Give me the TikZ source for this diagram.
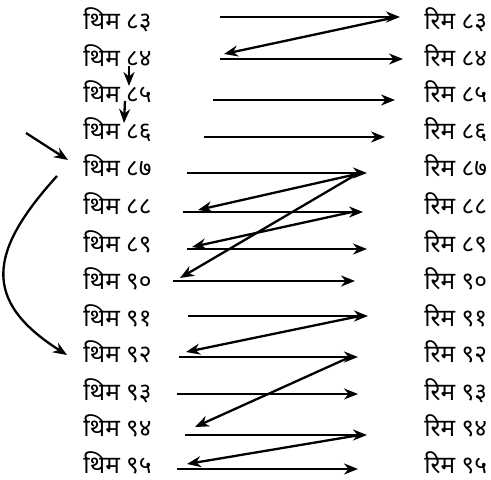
\documentclass[tikz,border=0pt]{standalone}
\usepackage{fontspec}
\newfontfamily\devfont[Script=Devanagari]{Noto Sans}
\usetikzlibrary{
	positioning,
	arrows.meta
}

\begin{document}
\begin{tikzpicture}[
			x=0.5pt,y=-0.5pt,
			lbl/.style={
				inner sep=0pt,
				anchor=base west,
				font=\devfont\fontsize{12.2}{14}\selectfont
			},
			arrow/.style={-{Stealth[length=7pt,width=5.5pt]},line width=1.15pt}
			]
			
			\useasboundingbox (0,0) rectangle (491,480);
			
			% left column
			\node[lbl] (l83) at (83,30) {थिम ८३};
			\node[lbl] (l84) at (83,67) {थिम ८४};
			\node[lbl] (l85) at (83,103) {थिम ८५};
			\node[lbl] (l86) at (83,140) {थिम ८६};
			\node[lbl] (l87) at (83,177) {थिम ८७};
			\node[lbl] (l88) at (83,215) {थिम ८८};
			\node[lbl] (l89) at (83,252) {थिम ८९};
			\node[lbl] (l90) at (83,289) {थिम ९०};
			\node[lbl] (l91) at (83,326) {थिम ९१};
			\node[lbl] (l92) at (83,362) {थिम ९२};
			\node[lbl] (l93) at (83,400) {थिम ९३};
			\node[lbl] (l94) at (83,436) {थिम ९४};
			\node[lbl] (l95) at (83,473) {थिम ९५};
			
			% right column
			\node[lbl] (r83) at (424,30) {रिम ८३};
			\node[lbl] (r84) at (424,67) {रिम ८४};
			\node[lbl] (r85) at (424,103) {रिम ८५};
			\node[lbl] (r86) at (424,140) {रिम ८६};
			\node[lbl] (r87) at (424,177) {रिम ८७};
			\node[lbl] (r88) at (424,215) {रिम ८८};
			\node[lbl] (r89) at (424,252) {रिम ८९};
			\node[lbl] (r90) at (424,289) {रिम ९०};
			\node[lbl] (r91) at (424,326) {रिम ९१};
			\node[lbl] (r92) at (424,362) {रिम ९२};
			\node[lbl] (r93) at (424,400) {रिम ९३};
			\node[lbl] (r94) at (424,436) {रिम ९४};
			\node[lbl] (r95) at (424,473) {रिम ९५};
			
			% row arrows
			\coordinate (s83) at (220,17);  \coordinate (e83) at (400,17);
			\coordinate (s84) at (220,59);  \coordinate (e84) at (403,59);
			\coordinate (s85) at (213,100); \coordinate (e85) at (395,100);
			\coordinate (s86) at (204,137); \coordinate (e86) at (385,137);
			\coordinate (s87) at (187,173); \coordinate (e87) at (367,173);
			\coordinate (s88) at (183,212); \coordinate (e88) at (363,212);
			\coordinate (s89) at (187,249); \coordinate (e89) at (367,249);
			\coordinate (s90) at (173,281); \coordinate (e90) at (355,281);
			\coordinate (s91) at (188,316); \coordinate (e91) at (368,316);
			\coordinate (s92) at (179,357); \coordinate (e92) at (358,357);
			\coordinate (s93) at (177,394); \coordinate (e93) at (358,394);
			\coordinate (s94) at (185,435); \coordinate (e94) at (367,435);
			\coordinate (s95) at (177,469); \coordinate (e95) at (358,469);
			
			\draw[arrow] (s83)--(e83);
			\draw[arrow] (s84)--(e84);
			\draw[arrow] (s85)--(e85);
			\draw[arrow] (s86)--(e86);
			\draw[arrow] (s87)--(e87);
			\draw[arrow] (s88)--(e88);
			\draw[arrow] (s89)--(e89);
			\draw[arrow] (s90)--(e90);
			\draw[arrow] (s91)--(e91);
			\draw[arrow] (s92)--(e92);
			\draw[arrow] (s93)--(e93);
			\draw[arrow] (s94)--(e94);
			\draw[arrow] (s95)--(e95);
			
			% diagonal returns
			\coordinate (t83) at (392,18);  \coordinate (h84) at (224,54);
			\coordinate (t87) at (357,174); \coordinate (h88) at (198,210);
			\coordinate (h90) at (180,278);
			\coordinate (t88) at (352,212); \coordinate (h89) at (192,247);
			\coordinate (t91) at (360,316); \coordinate (h92) at (186,352);
			\coordinate (t92) at (350,357); \coordinate (h94) at (195,427);
			\coordinate (t94) at (360,435); \coordinate (h95) at (187,464);
			
			\draw[arrow] (t83)--(h84);
			\draw[arrow] (t87)--(h88);
			\draw[arrow] (t87)--(h90);
			\draw[arrow] (t88)--(h89);
			\draw[arrow] (t91)--(h92);
			\draw[arrow] (t92)--(h94);
			\draw[arrow] (t94)--(h95);
			
			% small down arrows
			\coordinate (v1a) at (129,66);  \coordinate (v1b) at (129,86);
			\coordinate (v2a) at (125,101); \coordinate (v2b) at (124,123);
			\draw[arrow] (v1a)--(v1b);
			\draw[arrow] (v2a)--(v2b);
			
			% entry and loop back
			\coordinate (in0) at (26,133);  \coordinate (in1) at (68,160);
			\coordinate (lp0) at (57,176);  \coordinate (lp1) at (67,355);
			\draw[arrow] (in0)--(in1);
			\draw[arrow] (lp0) .. controls (-10,250) and (-20,300) .. (lp1);
			
		\end{tikzpicture}
\end{document}
